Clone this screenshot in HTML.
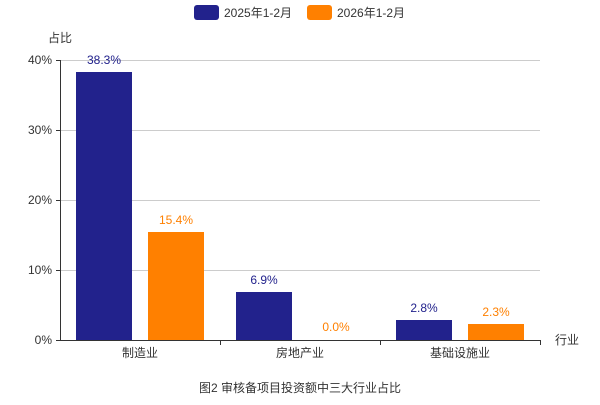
<!DOCTYPE html><html><head><meta charset="utf-8"><style>
body{margin:0;background:#fff;}
svg text{font-family:"Liberation Sans","Noto Sans CJK SC",sans-serif;}
</style></head><body>
<svg width="600" height="400" xmlns="http://www.w3.org/2000/svg">
<rect x="194" y="5" width="25" height="15" rx="3" fill="#22228c"/>
<text x="224" y="17" font-size="12" fill="#333">2025年1-2月</text>
<rect x="307" y="5" width="25" height="15" rx="3" fill="#ff8000"/>
<text x="337" y="17" font-size="12" fill="#333">2026年1-2月</text>
<text x="60" y="42" font-size="12" fill="#333" text-anchor="middle">占比</text>
<g stroke="#ccc" stroke-width="1">
<line x1="60" y1="60.5" x2="540" y2="60.5"/><line x1="60" y1="130.5" x2="540" y2="130.5"/>
<line x1="60" y1="200.5" x2="540" y2="200.5"/><line x1="60" y1="270.5" x2="540" y2="270.5"/>
</g>
<g font-size="12" fill="#333" text-anchor="end">
<text x="52" y="64">40%</text><text x="52" y="134">30%</text><text x="52" y="204">20%</text><text x="52" y="274">10%</text><text x="52" y="344">0%</text>
</g>
<g stroke="#333" stroke-width="1">
<line x1="60.5" y1="60" x2="60.5" y2="340"/>
<line x1="60" y1="340.5" x2="541" y2="340.5"/>
<line x1="56" y1="60.5" x2="60" y2="60.5"/><line x1="56" y1="130.5" x2="60" y2="130.5"/><line x1="56" y1="200.5" x2="60" y2="200.5"/><line x1="56" y1="270.5" x2="60" y2="270.5"/><line x1="56" y1="340.5" x2="60" y2="340.5"/>
<line x1="220.5" y1="340" x2="220.5" y2="345"/><line x1="380.5" y1="340" x2="380.5" y2="345"/><line x1="540.5" y1="340" x2="540.5" y2="345"/>
</g>
<g fill="#22228c">
<rect x="76" y="72" width="56" height="268"/>
<rect x="236" y="292" width="56" height="48"/>
<rect x="396" y="320" width="56" height="20"/>
</g>
<g fill="#ff8000">
<rect x="148" y="232" width="56" height="108"/>
<rect x="468" y="324" width="56" height="16"/>
</g>
<g font-size="12" text-anchor="middle">
<text x="104" y="64" fill="#22228c">38.3%</text>
<text x="264" y="284" fill="#22228c">6.9%</text>
<text x="424" y="312" fill="#22228c">2.8%</text>
<text x="176" y="224" fill="#ff8000">15.4%</text>
<text x="336" y="331" fill="#ff8000">0.0%</text>
<text x="496" y="316" fill="#ff8000">2.3%</text>
</g>
<g font-size="12" fill="#333" text-anchor="middle">
<text x="140" y="357">制造业</text><text x="300" y="357">房地产业</text><text x="460" y="357">基础设施业</text>
<text x="567" y="344">行业</text>
<text x="300" y="392">图2 审核备项目投资额中三大行业占比</text>
</g>
</svg>
</body></html>
